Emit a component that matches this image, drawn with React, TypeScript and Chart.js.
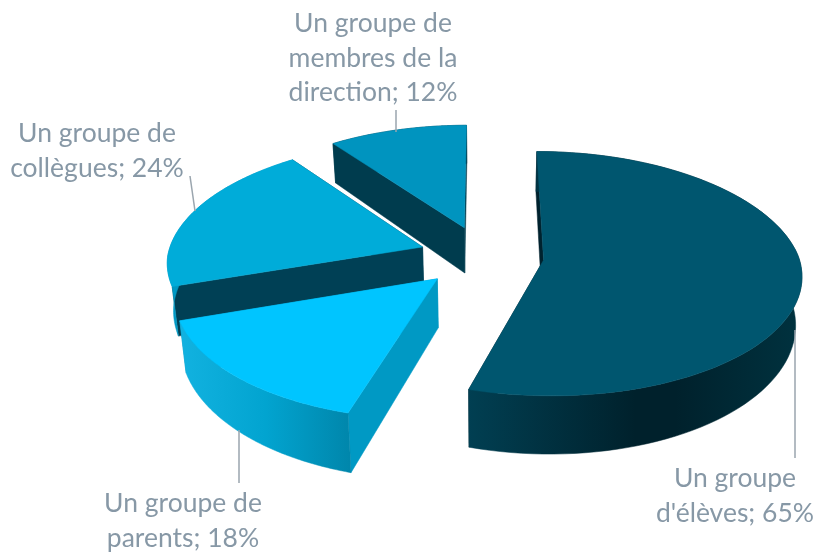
import React, { useEffect, useRef } from "react";
import { Chart, registerables } from "chart.js";

Chart.register(...registerables);

const categoryLines = [
  ["Un groupe", "d'élèves"],
  ["Un groupe de", "parents"],
  ["Un groupe de", "collègues"],
  ["Un groupe de", "membres de la", "direction"],
];
const values = [65, 18, 24, 12];
const explode = [60, 66, 65, 65];

const topColors = ["#00566f", "#00c5ff", "#00acd9", "#0094bf"];
const faceColors = ["#00222e", "#0099c4", "#004055", "#003c4e"];
const wallStops: [number, string][][] = [
  [[0, "#013f52"], [0.5, "#00212c"], [0.62, "#00212c"], [1, "#00323f"]],
  [[0, "#12b2e0"], [0.5, "#02a4d0"], [1, "#0086ab"]],
  [[0, "#0099c4"], [1, "#0099c4"]],
  [[0, "#003c4e"], [1, "#003c4e"]],
];
const drawOrder = [3, 2, 0, 1];

const labelAnchors = [
  { x: 735, y: 487 },
  { x: 183, y: 512 },
  { x: 97, y: 142 },
  { x: 373, y: 32 },
];
const leaders = [
  [795, 330, 795, 458],
  [239, 430, 239, 483],
  [190, 176, 195, 211],
  [396, 110, 396, 132],
];
const LINE_HEIGHT = 34.7;
const TEXT_COLOR = "#8798a6";
const LEADER_COLOR = "#9aa5ae";

// Projection of the pie plane, fitted to the reference's perspective.
const P = 0.000435;
const G = 0.4696;
const H = 46;
const project = (cx: number, cy: number, u: number, v: number, low: boolean) => {
  const w = 1 - P * v;
  const wx = 1 - (v < 0 ? 1.15 : 1) * P * v;
  if (!low) return [cx + u / wx, cy + (G * v) / w];
  return [cx + u / (wx + 0.02), cy + (G * v + H) / (w - 0.028)];
};

const pie3d = {
  id: "pie3d",
  beforeDatasetsDraw(chart: any) {
    const ctx = chart.ctx as CanvasRenderingContext2D;
    const arcs = chart.getDatasetMeta(0).data;
    const poly = (pts: number[][], fill: any) => {
      ctx.beginPath();
      pts.forEach((p, i) => (i ? ctx.lineTo(p[0], p[1]) : ctx.moveTo(p[0], p[1])));
      ctx.closePath();
      ctx.fillStyle = fill;
      ctx.fill();
      ctx.strokeStyle = fill;
      ctx.lineWidth = 0.5;
      ctx.stroke();
    };
    for (const i of drawOrder) {
      const a = arcs[i];
      const { x, y, startAngle, endAngle, outerRadius } = a.getProps(["x", "y", "startAngle", "endAngle", "outerRadius"]);
      const mid = (startAngle + endAngle) / 2;
      const off = a.options.offset;
      const ox = off * Math.cos(mid);
      const oy = off * Math.sin(mid);
      const pt = (ang: number, r: number, low: boolean) =>
        project(x, y, ox + r * Math.cos(ang), oy + r * Math.sin(ang), low);
      const N = 90;
      const rimTop: number[][] = [];
      const rimLow: number[][] = [];
      for (let k = 0; k <= N; k++) {
        const ang = startAngle + ((endAngle - startAngle) * k) / N;
        rimTop.push(pt(ang, outerRadius, false));
        rimLow.push(pt(ang, outerRadius, true));
      }
      const apexTop = pt(0, 0, false);
      const apexLow = pt(0, 0, true);
      // cut faces
      poly([apexTop, rimTop[N], rimLow[N], apexLow], faceColors[i]);
      poly([apexTop, rimTop[0], rimLow[0], apexLow], faceColors[i]);
      // outer wall
      const xs = [...rimTop, ...rimLow].map((p) => p[0]);
      const minX = Math.min(...xs);
      const maxX = Math.max(...xs);
      const grad = ctx.createLinearGradient(minX, 0, maxX, 0);
      wallStops[i].forEach(([s, c]) => grad.addColorStop(s, c));
      poly([...rimTop, ...rimLow.slice().reverse()], grad);
      // top surface
      poly([apexTop, ...rimTop], topColors[i]);
    }
    return false;
  },
};

const labelsPlugin = {
  id: "sliceLabels",
  afterDraw(chart: any) {
    const ctx = chart.ctx as CanvasRenderingContext2D;
    ctx.save();
    ctx.strokeStyle = LEADER_COLOR;
    ctx.lineWidth = 1.5;
    leaders.forEach(([a, b, c, d]) => {
      ctx.beginPath();
      ctx.moveTo(a, b);
      ctx.lineTo(c, d);
      ctx.stroke();
    });
    ctx.font = "26.5px Lato";
    ctx.fillStyle = TEXT_COLOR;
    ctx.textAlign = "center";
    ctx.textBaseline = "alphabetic";
    categoryLines.forEach((lines, i) => {
      lines.forEach((line, j) => {
        const text = j === lines.length - 1 ? `${line}; ${values[i]}%` : line;
        ctx.fillText(text, labelAnchors[i].x, labelAnchors[i].y + j * LINE_HEIGHT);
      });
    });
    ctx.restore();
  },
};

export default function App() {
  const ref = useRef<HTMLCanvasElement>(null);
  useEffect(() => {
    const chart = new Chart(ref.current!, {
      type: "pie",
      data: {
        labels: categoryLines.map((l) => l.join(" ")),
        datasets: [
          {
            data: values,
            backgroundColor: topColors,
            offset: explode,
            borderWidth: 0,
            hoverOffset: 0,
          } as any,
        ],
      },
      options: {
        responsive: false,
        animation: false,
        radius: 255,
        layout: { padding: { left: 149, bottom: 40 } },
        plugins: { legend: { display: false }, tooltip: { enabled: false } },
      } as any,
      plugins: [pie3d, labelsPlugin],
    });
    return () => chart.destroy();
  }, []);
  return (
    <div style={{ position: "absolute", left: 0, top: 0, width: 819, height: 552 }}>
      <canvas ref={ref} width={819} height={552} style={{ display: "block" }} />
    </div>
  );
}
